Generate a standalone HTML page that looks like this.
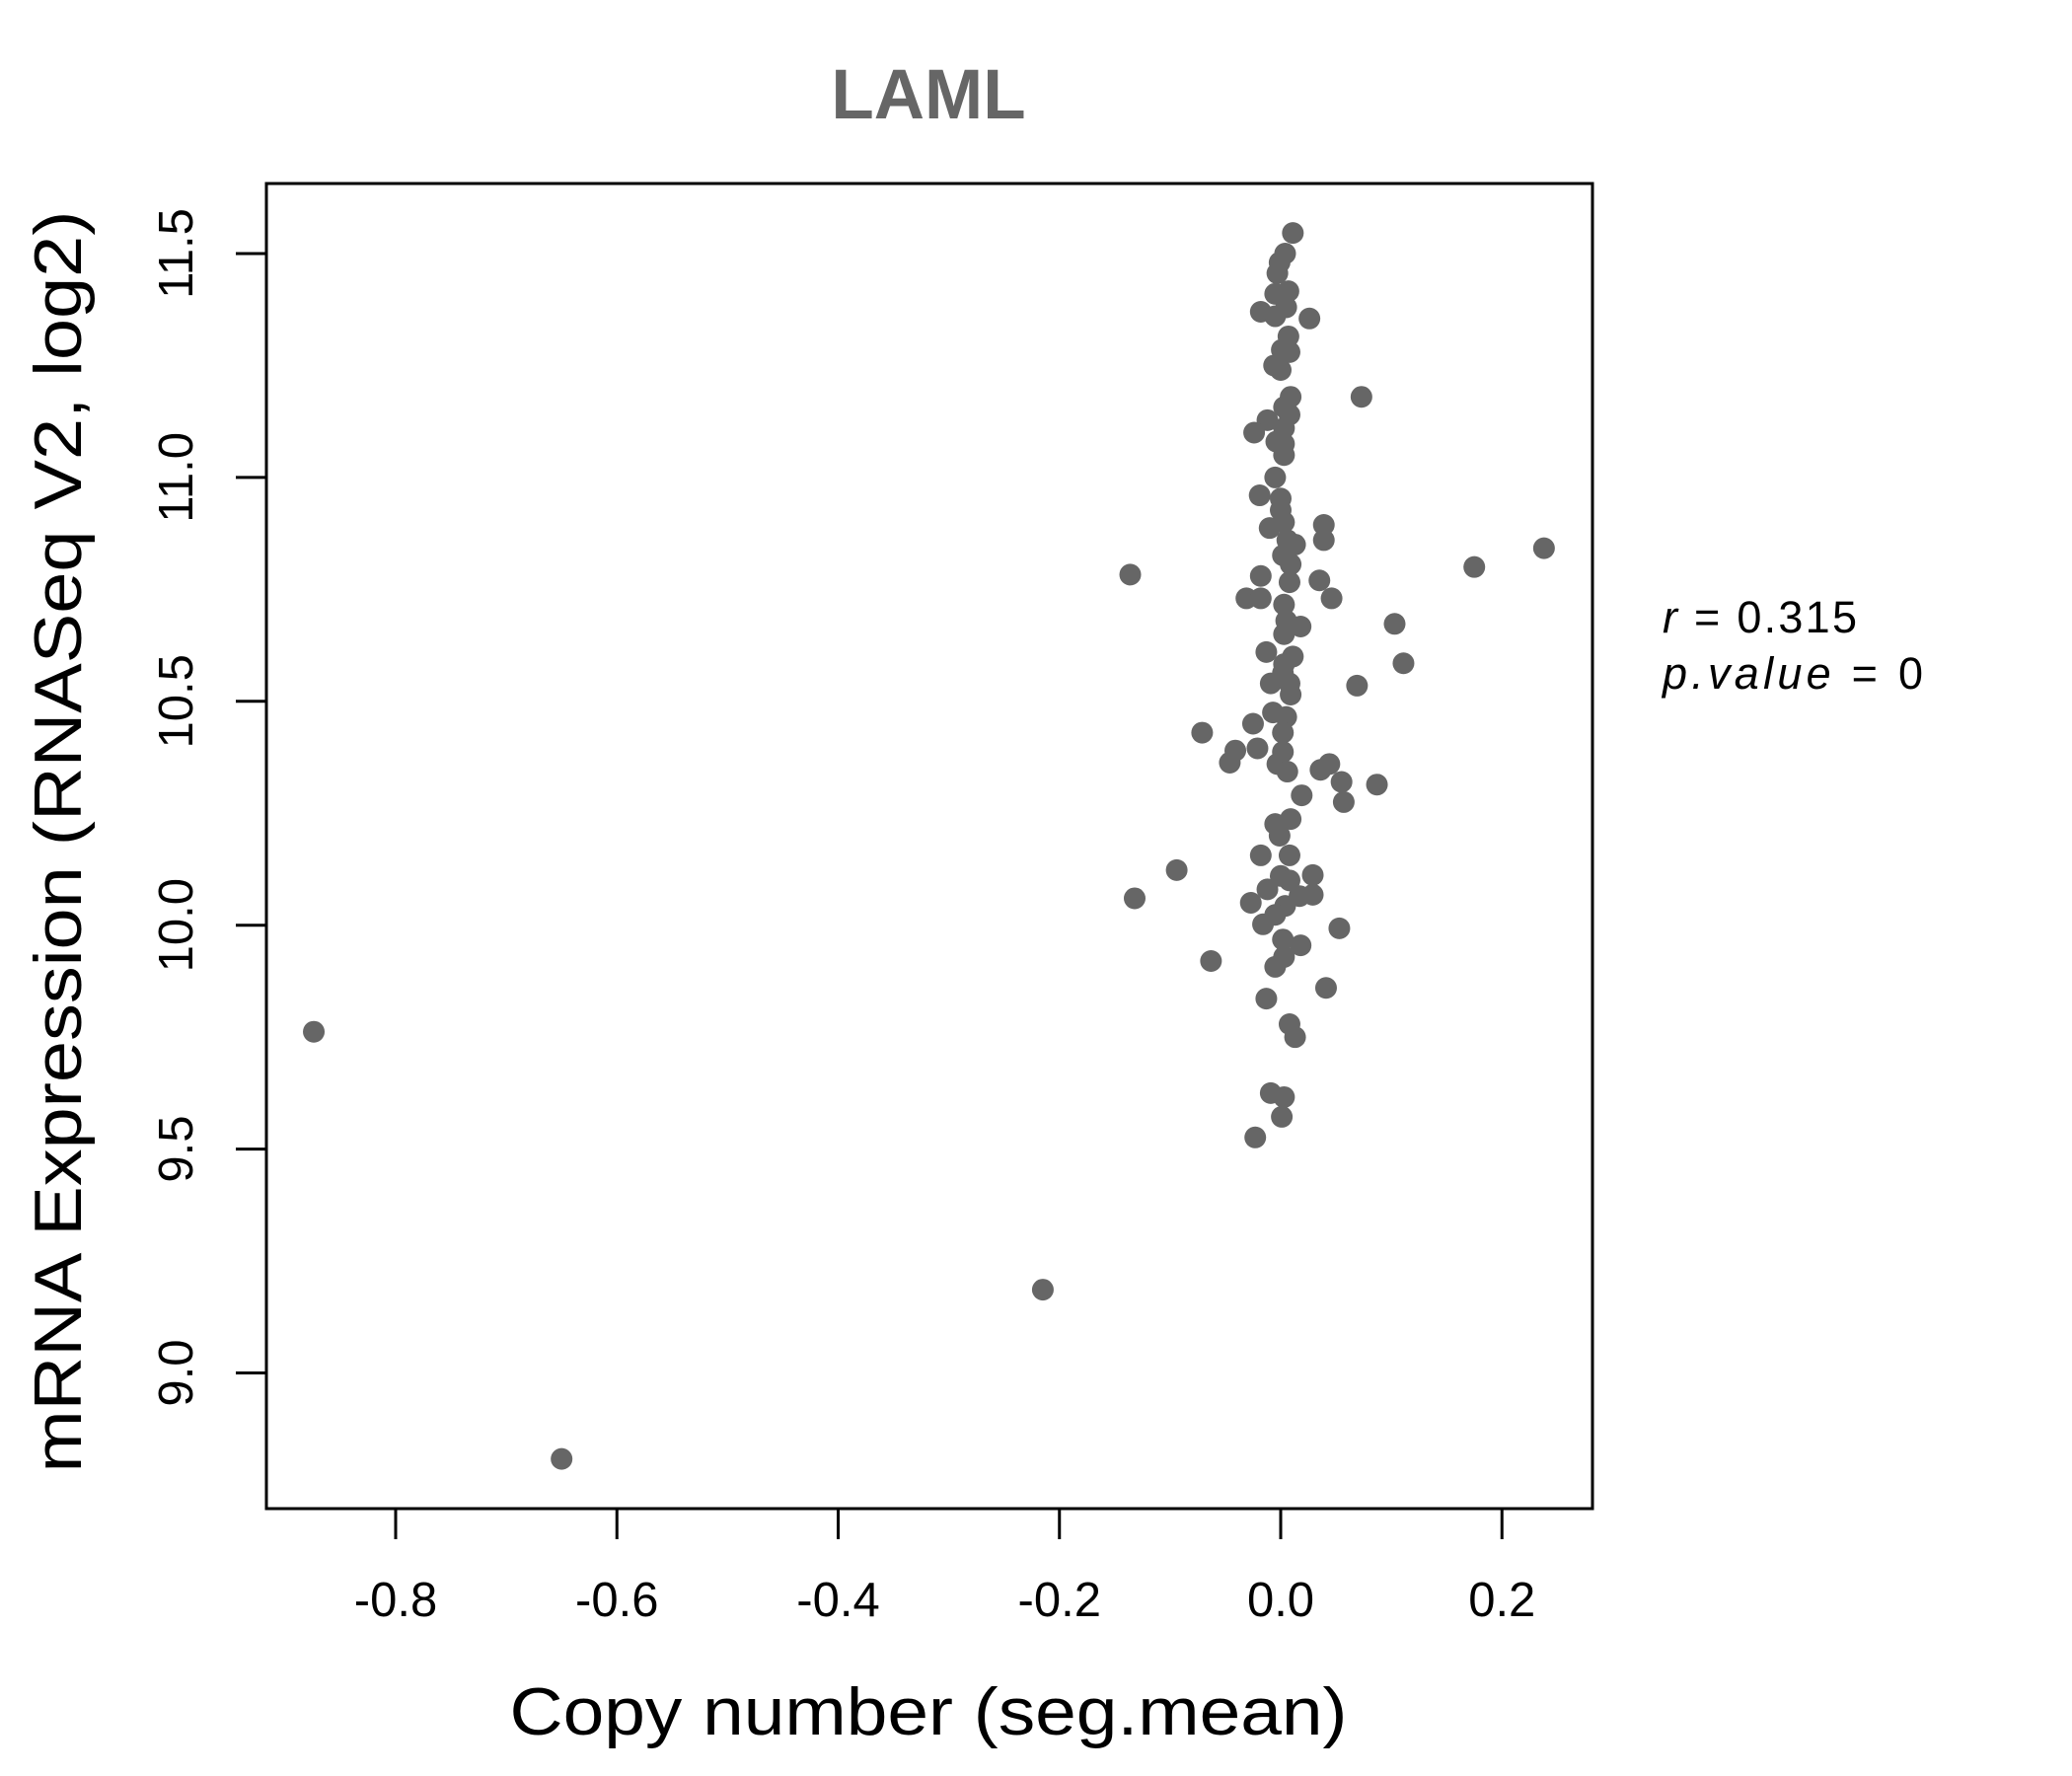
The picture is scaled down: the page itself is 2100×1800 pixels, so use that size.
<!DOCTYPE html>
<html><head><meta charset="utf-8"><style>html,body{margin:0;padding:0;background:#fff}svg{display:block}</style></head>
<body>
<svg id="chart" width="2100" height="1800" xmlns="http://www.w3.org/2000/svg" font-family="'Liberation Sans', sans-serif">
<rect width="2100" height="1800" fill="#fff"/>
<text x="941" y="120" text-anchor="middle" font-size="71" font-weight="bold" fill="#666">LAML</text>
<rect x="270" y="186" width="1344" height="1343" fill="none" stroke="#000" stroke-width="3"/>
<g id="xaxis"></g>
<g id="yaxis"></g>
<g id="points"></g>
<text x="941" y="1758" text-anchor="middle" font-size="68" textLength="849" lengthAdjust="spacingAndGlyphs">Copy number (seg.mean)</text>
<text transform="translate(82,853) rotate(-90)" text-anchor="middle" font-size="68" textLength="1279" lengthAdjust="spacingAndGlyphs">mRNA Expression (RNASeq V2, log2)</text>
<text x="1685" y="641" font-size="45" textLength="197" lengthAdjust="spacing"><tspan font-style="italic">r</tspan> = 0.315</text>
<text x="1685" y="698" font-size="45" textLength="264" lengthAdjust="spacing"><tspan font-style="italic">p.value</tspan> = 0</text>
<script>
const xTicks = [-0.8, -0.6, -0.4, -0.2, 0.0, 0.2];
const xTickLabels = ["-0.8", "-0.6", "-0.4", "-0.2", "0.0", "0.2"];
const yTicks = [9.0, 9.5, 10.0, 10.5, 11.0, 11.5];
const yTickLabels = ["9.0", "9.5", "10.0", "10.5", "11.0", "11.5"];
const copyNumber = [0.011,0.004,-0.001,-0.003,-0.005,0.007,-0.018,-0.005,0.005,0.026,0.007,0.008,0.001,-0.006,0,0.009,0.073,0.003,0.008,-0.012,-0.024,0.003,-0.004,0.003,0.003,-0.005,-0.019,0,0,0.003,-0.010,0.039,0.039,0.006,0.013,0.002,0.009,-0.018,0.008,0.035,-0.031,-0.018,0.046,0.003,0.005,0.018,0.103,0.003,-0.013,0.011,0.111,0.003,-0.009,0.008,0.069,0.002,0.009,-0.007,0.005,-0.025,-0.071,0.002,-0.041,-0.021,-0.046,0.002,-0.003,0.006,0.036,0.044,0.055,0.087,0.057,0.019,0.009,-0.005,-0.001,-0.018,0.008,-0.094,0,0.029,0.008,-0.012,0.029,0.017,-0.027,0.004,-0.005,-0.016,0.053,0.002,0.018,0.003,-0.005,-0.063,0.041,-0.013,0.008,0.013,-0.009,0.003,0.001,-0.023,0.238,0.175,-0.136,-0.132,-0.874,-0.650,-0.215];
const expression = [11.546,11.50,11.48,11.456,11.41,11.416,11.37,11.36,11.38,11.355,11.315,11.28,11.285,11.25,11.24,11.18,11.18,11.157,11.14,11.128,11.10,11.11,11.08,11.075,11.05,11.00,10.96,10.953,10.927,10.90,10.887,10.894,10.86,10.86,10.85,10.826,10.806,10.78,10.766,10.77,10.73,10.73,10.73,10.716,10.68,10.667,10.673,10.65,10.61,10.60,10.585,10.583,10.54,10.54,10.535,10.563,10.515,10.475,10.465,10.45,10.43,10.43,10.39,10.395,10.363,10.387,10.36,10.343,10.347,10.36,10.32,10.314,10.275,10.29,10.237,10.226,10.20,10.156,10.156,10.123,10.11,10.112,10.10,10.08,10.068,10.065,10.05,10.043,10.023,10.002,9.993,9.968,9.955,9.929,9.907,9.92,9.86,9.836,9.779,9.75,9.625,9.616,9.572,9.526,10.842,10.80,10.783,10.06,9.762,8.808,9.186];

const NS = "http://www.w3.org/2000/svg";
function xScale(v){ return 1298 + v * 1121.25; }
function yScale(v){ return 257 + (11.5 - v) * 453.8; }

const xg = document.getElementById('xaxis');
xTicks.forEach((t, i) => {
  const l = document.createElementNS(NS, 'line');
  l.setAttribute('x1', xScale(t)); l.setAttribute('x2', xScale(t));
  l.setAttribute('y1', 1529); l.setAttribute('y2', 1560);
  l.setAttribute('stroke', '#000'); l.setAttribute('stroke-width', 3);
  
  
  xg.appendChild(l);
  const tx = document.createElementNS(NS, 'text');
  tx.setAttribute('x', xScale(t)); tx.setAttribute('y', 1638);
  tx.setAttribute('text-anchor', 'middle'); tx.setAttribute('font-size', 49);
  tx.textContent = xTickLabels[i];
  
  
  xg.appendChild(tx);
});
const yg = document.getElementById('yaxis');
yTicks.forEach((t, i) => {
  const l = document.createElementNS(NS, 'line');
  l.setAttribute('x1', 239); l.setAttribute('x2', 270);
  l.setAttribute('y1', yScale(t)); l.setAttribute('y2', yScale(t));
  l.setAttribute('stroke', '#000'); l.setAttribute('stroke-width', 3);
  
  
  yg.appendChild(l);
  const tx = document.createElementNS(NS, 'text');
  tx.setAttribute('transform', 'translate(195,' + yScale(t) + ') rotate(-90)');
  tx.setAttribute('text-anchor', 'middle'); tx.setAttribute('font-size', 49);
  tx.textContent = yTickLabels[i];
  
  
  yg.appendChild(tx);
});
const pg = document.getElementById('points');
copyNumber.forEach((v, i) => {
  const c = document.createElementNS(NS, 'circle');
  c.setAttribute('cx', xScale(v)); c.setAttribute('cy', yScale(expression[i]));
  c.setAttribute('r', 11); c.setAttribute('fill', '#666');
  
  
  pg.appendChild(c);
});
</script>
</svg>
</body></html>
